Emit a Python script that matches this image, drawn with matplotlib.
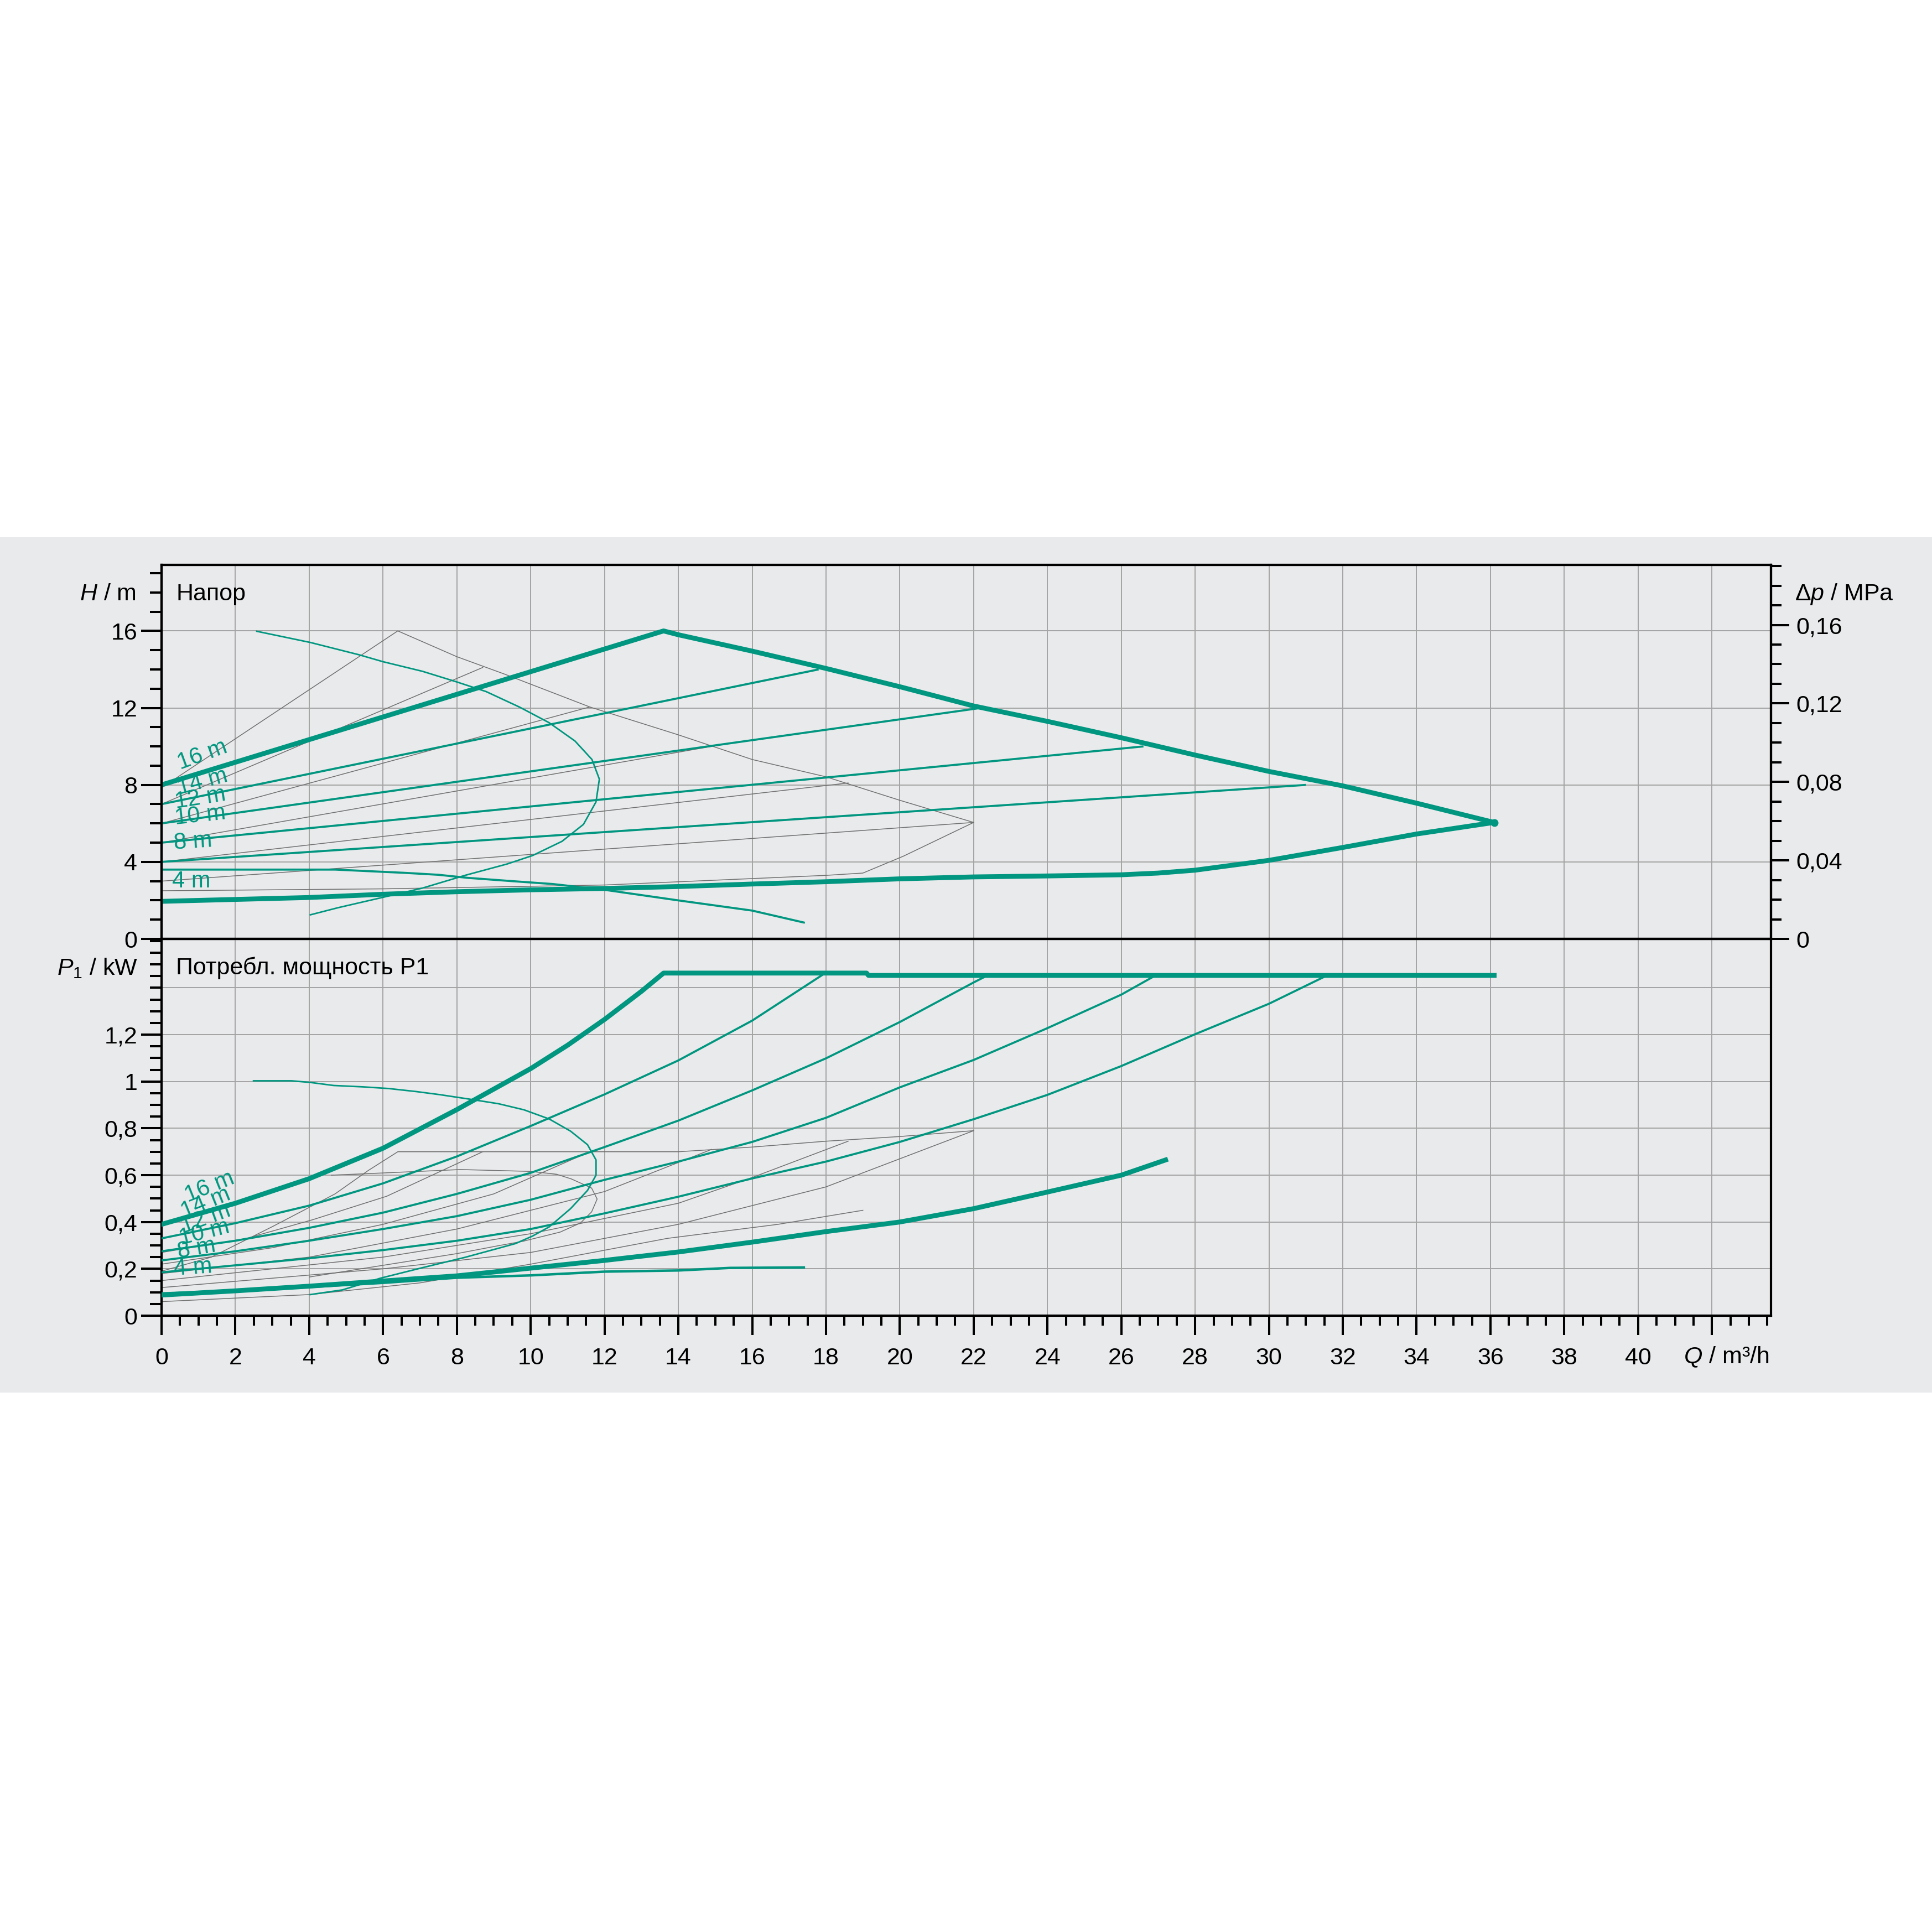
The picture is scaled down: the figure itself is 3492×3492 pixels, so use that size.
import numpy as np
import matplotlib
matplotlib.use("Agg")
import matplotlib.pyplot as plt
from matplotlib.ticker import MultipleLocator, FixedLocator, FixedFormatter
from matplotlib.patches import Rectangle
import matplotlib.transforms as mtransforms

plt.rcParams['font.family'] = ['Liberation Sans', 'DejaVu Sans']
plt.rcParams['mathtext.fontset'] = 'custom'
plt.rcParams['mathtext.it'] = 'Liberation Sans:italic'
plt.rcParams['mathtext.rm'] = 'Liberation Sans'
plt.rcParams['mathtext.default'] = 'regular'

# ---------------- data: head (top panel) ----------------
max_q = [0, 13.6, 14, 16, 18, 20, 22, 24, 26, 28, 30, 32, 34, 36.1]
max_h = [8.0, 16.0, 15.8, 14.95, 14.05, 13.1, 12.1, 11.3, 10.45, 9.55, 8.7, 7.95, 7.05, 6.05]

min_q = [0, 2, 4, 6, 8, 10, 12, 14, 16, 18, 20, 22, 24, 26, 27, 28, 30, 32, 34, 36.1]
min_h = [1.95, 2.05, 2.15, 2.32, 2.45, 2.55, 2.62, 2.72, 2.85, 2.97, 3.12, 3.22, 3.27, 3.33, 3.42, 3.57, 4.08, 4.75, 5.45, 6.05]

dpv_labels = ["14 m", "12 m", "10 m", "8 m"]
dpv_q_end = [17.8, 22.2, 26.6, 31.0]
dpv_h_start = [7.0, 6.0, 5.0, 4.0]
dpv_h_end = [14.0, 12.0, 10.0, 8.0]

minspeed_q = [0, 4.7, 6.6, 7.5, 8.3, 9.5, 10.6, 12, 14, 16, 17.4]
minspeed_h = [3.6, 3.6, 3.43, 3.33, 3.17, 3.0, 2.85, 2.55, 2.0, 1.47, 0.85]

arc_q = [2.58, 4.03, 5.35, 6.0, 7.07, 7.98, 8.79, 9.7, 10.5, 11.2, 11.66, 11.86, 11.77, 11.43,
         10.85, 10.05, 9.36, 8.22, 7.07, 5.93, 4.78, 4.03]
arc_h = [15.98, 15.4, 14.76, 14.4, 13.9, 13.36, 12.85, 12.04, 11.23, 10.28, 9.32, 8.3, 7.12, 5.95,
         5.07, 4.33, 3.89, 3.3, 2.64, 2.13, 1.62, 1.25]

gmax_q = [0, 6.4, 8, 9.3, 11.6, 14, 16, 18, 20, 22]
gmax_h = [7.85, 16.0, 14.66, 13.75, 12.05, 10.6, 9.32, 8.42, 7.2, 6.05]
gmin_q = [0, 6, 12, 18, 19, 19.6, 20.1, 22]
gmin_h = [2.5, 2.6, 2.8, 3.3, 3.42, 3.9, 4.3, 6.05]
g_q_end = [8.7, 11.6, 14.9, 18.6, 22.0]
g_h_start = [7.0, 6.0, 5.0, 4.0, 3.0]
g_h_end = [14.1, 12.05, 10.0, 8.1, 6.05]

# ---------------- data: power P1 (bottom panel) ----------------
maxp_q = [0, 2, 4, 6, 8, 10, 11, 12, 13, 13.6, 19.1, 19.15, 36.1]
maxp_p = [0.39, 0.48, 0.585, 0.715, 0.88, 1.055, 1.155, 1.265, 1.385, 1.463, 1.463, 1.453, 1.453]

p14_q = [0, 2, 4, 6, 8, 10, 12, 14, 16, 17.9]
p14_p = [0.33, 0.395, 0.47, 0.565, 0.68, 0.81, 0.945, 1.09, 1.26, 1.455]
p12_q = [0, 2, 4, 6, 8, 10, 12, 14, 16, 18, 20, 22, 22.4]
p12_p = [0.275, 0.32, 0.375, 0.44, 0.52, 0.61, 0.72, 0.833, 0.962, 1.099, 1.254, 1.423, 1.455]
p10_q = [0, 2, 4, 6, 8, 10, 12, 14, 16, 18, 20, 22, 24, 26, 26.95]
p10_p = [0.236, 0.275, 0.32, 0.37, 0.425, 0.495, 0.58, 0.658, 0.742, 0.845, 0.975, 1.092, 1.228, 1.371, 1.455]
p8_q = [0, 2, 4, 6, 8, 10, 12, 14, 16, 18, 20, 22, 24, 26, 28, 30, 31.6]
p8_p = [0.185, 0.215, 0.245, 0.28, 0.32, 0.37, 0.437, 0.508, 0.586, 0.658, 0.742, 0.839, 0.943, 1.066, 1.202, 1.332, 1.455]

pmin_q = [0, 2, 4, 6, 8, 10, 12, 14, 16, 18, 20, 22, 24, 26, 27.2]
pmin_p = [0.088, 0.106, 0.126, 0.148, 0.17, 0.203, 0.236, 0.272, 0.314, 0.359, 0.40, 0.457, 0.528, 0.6, 0.665]

pms_q = [0, 2, 4, 6, 8, 10, 12, 14, 15.4, 17.4]
pms_p = [0.095, 0.107, 0.122, 0.14, 0.162, 0.172, 0.188, 0.193, 0.204, 0.206]

parc_q = [2.49, 3.52, 4.03, 4.66, 5.47, 6.15, 6.9, 7.53, 8.33, 9.13, 9.82, 10.5, 11.08, 11.54, 11.77,
          11.77, 11.54, 11.08, 10.5, 10.05, 9.59, 9.13, 8.22, 7.07, 5.93, 4.9, 4.03]
parc_p = [1.003, 1.003, 0.996, 0.983, 0.977, 0.97, 0.957, 0.944, 0.925, 0.905, 0.879, 0.84, 0.788, 0.73, 0.665,
          0.6, 0.535, 0.457, 0.379, 0.34, 0.308, 0.288, 0.249, 0.205, 0.16, 0.11, 0.09]

gpmax_q = [0, 1.35, 3, 4.7, 5.6, 6.4, 14, 16, 18, 20, 22]
gpmax_p = [0.19, 0.25, 0.38, 0.52, 0.62, 0.70, 0.70, 0.72, 0.745, 0.765, 0.79]
gp_q = [[0, 2.3, 4.1, 6.1, 8.7],
        [0, 3, 6, 9, 11.6],
        [0, 4, 8, 12, 14.9],
        [0, 6, 10, 14, 16, 18.6],
        [0, 6, 10, 14, 18, 22]]
gp_p = [[0.27, 0.33, 0.41, 0.51, 0.70],
        [0.22, 0.29, 0.39, 0.52, 0.70],
        [0.18, 0.25, 0.37, 0.53, 0.71],
        [0.15, 0.25, 0.35, 0.48, 0.59, 0.745],
        [0.12, 0.2, 0.27, 0.39, 0.55, 0.79]]
gpmin_q = [0, 4, 7, 10, 13.7, 16.7, 19]
gpmin_p = [0.06, 0.09, 0.14, 0.22, 0.33, 0.39, 0.45]
gparc_q = [4.6, 5.8, 8.1, 10.0, 10.7, 11.1, 11.65, 11.8, 11.65, 11.35, 10.8, 9.8, 9.1, 8, 6, 4]
gparc_p = [0.6, 0.608, 0.624, 0.616, 0.604, 0.584, 0.545, 0.498, 0.443, 0.396, 0.357, 0.318, 0.298, 0.265, 0.215, 0.165]

x_major = list(range(0, 43, 2))
x_labels = [str(v) for v in range(0, 41, 2)] + [""]
h_major = [0, 4, 8, 12, 16]
h_labels = ["0", "4", "8", "12", "16"]
dp_major = [0, 0.04, 0.08, 0.12, 0.16]
dp_labels = ["0", "0,04", "0,08", "0,12", "0,16"]
p_major = [0, 0.2, 0.4, 0.6, 0.8, 1.0, 1.2]
p_labels = ["0", "0,2", "0,4", "0,6", "0,8", "1", "1,2"]

# ---------------- styling ----------------
TEAL = '#00967f'
GLINE = '#707070'
GRID = '#a4a4a4'
BG = '#e9eaec'
FS = 31
LFS = 30
W = 3492.0

fig = plt.figure(figsize=(34.92, 34.92), dpi=100)
fig.patch.set_facecolor('white')
fig.patches.append(Rectangle((0, (W - 2517) / W), 1, (2517 - 971) / W, transform=fig.transFigure,
                             facecolor=BG, edgecolor='none', zorder=-10))

L, R = 292 / W, 3201 / W
ax1 = fig.add_axes([L, (W - 1697) / W, R - L, (1697 - 1021) / W])
ax2 = fig.add_axes([L, (W - 2378) / W, R - L, (2378 - 1697) / W])
HMAX = 19.43
XMAX = 43.6
RHO_G = 0.00981

for ax in (ax1, ax2):
    ax.set_facecolor('none')
    ax.set_xlim(0, XMAX)
    for s in ax.spines.values():
        s.set_linewidth(3)
        s.set_color('black')
    ax.set_xticks(x_major)
    ax.xaxis.grid(True, which='major', color=GRID, lw=1.4, zorder=0)
    ax.yaxis.grid(True, which='major', color=GRID, lw=1.4, zorder=0)
    ax.set_axisbelow(True)

# top axes
ax1.set_ylim(0, HMAX)
ax1.yaxis.set_major_locator(FixedLocator(h_major))
ax1.yaxis.set_major_formatter(FixedFormatter(h_labels))
ax1.yaxis.set_minor_locator(FixedLocator(list(range(0, 20))))
ax1.tick_params(axis='x', which='both', length=0, labelbottom=False)
ax1.tick_params(axis='y', which='major', direction='out', length=26.5, width=2.9, labelsize=FS, pad=5)
ax1.tick_params(axis='y', which='minor', direction='out', length=15, width=2.9)

ax1r = ax1.twinx()
ax1r.set_ylim(0, HMAX * RHO_G)
ax1r.yaxis.set_major_locator(FixedLocator(dp_major))
ax1r.yaxis.set_major_formatter(FixedFormatter(dp_labels))
ax1r.yaxis.set_minor_locator(FixedLocator([i * 0.01 for i in range(0, 20)]))
ax1r.tick_params(axis='y', which='major', direction='out', length=24, width=2.9, labelsize=FS, pad=9)
ax1r.tick_params(axis='y', which='minor', direction='out', length=14, width=2.9)
for s in ax1r.spines.values():
    s.set_linewidth(3)

# bottom axes
ax2.set_ylim(0, 1.609)
ax2.yaxis.set_major_locator(FixedLocator(p_major))
ax2.yaxis.set_major_formatter(FixedFormatter(p_labels))
ax2.yaxis.set_minor_locator(FixedLocator([i * 0.05 for i in range(0, 33)]))
ax2.axhline(1.4, color=GRID, lw=1.4, zorder=0)
ax2.xaxis.set_major_formatter(FixedFormatter(x_labels))
ax2.xaxis.set_minor_locator(MultipleLocator(0.5))
ax2.tick_params(axis='x', which='major', direction='out', length=25, width=2.9, labelsize=FS, pad=16)
ax2.tick_params(axis='x', which='minor', direction='out', length=13, width=2.9)
ax2.tick_params(axis='y', which='major', direction='out', length=26.5, width=2.9, labelsize=FS, pad=5)
ax2.tick_params(axis='y', which='minor', direction='out', length=15, width=2.9)

THICK = 6.3
THIN = 2.7

# ---- top panel curves ----
ax1.plot(gmax_q, gmax_h, color=GLINE, lw=1.1, zorder=2)
ax1.plot(gmin_q, gmin_h, color=GLINE, lw=1.1, zorder=2)
for qe, hs, he in zip(g_q_end, g_h_start, g_h_end):
    ax1.plot([0, qe], [hs, he], color=GLINE, lw=1.1, zorder=2)

for qe, hs, he in zip(dpv_q_end, dpv_h_start, dpv_h_end):
    ax1.plot([0, qe], [hs, he], color=TEAL, lw=THIN, zorder=3, solid_capstyle='butt')
ax1.plot(minspeed_q, minspeed_h, color=TEAL, lw=THIN, zorder=3)
ax1.plot(arc_q, arc_h, color=TEAL, lw=2.0, zorder=3)
ax1.plot(max_q, max_h, color=TEAL, lw=THICK, zorder=4, solid_joinstyle='round')
ax1.plot(min_q, min_h, color=TEAL, lw=THICK, zorder=4, solid_joinstyle='round')
ax1.plot([max_q[-1]], [max_h[-1]], 'o', color=TEAL, ms=9, zorder=5)

top_lbls = [("16 m", 1.1, 9.55, 20), ("14 m", 1.1, 8.15, 15), ("12 m", 1.05, 7.3, 9),
            ("10 m", 1.05, 6.4, 6), ("8 m", 0.85, 5.05, 4), ("4 m", 0.8, 3.0, 0)]
for t, x, y, r in top_lbls:
    ax1.text(x, y, t, color=TEAL, fontsize=LFS, rotation=r, ha='center', va='center',
             rotation_mode='anchor', zorder=6)

# ---- bottom panel curves ----
ax2.plot(gpmax_q, gpmax_p, color=GLINE, lw=1.1, zorder=2)
for qq, pp in zip(gp_q, gp_p):
    ax2.plot(qq, pp, color=GLINE, lw=1.1, zorder=2)
ax2.plot(gpmin_q, gpmin_p, color=GLINE, lw=1.1, zorder=2)
ax2.plot(gparc_q, gparc_p, color=GLINE, lw=1.1, zorder=2)

for qq, pp in ((p14_q, p14_p), (p12_q, p12_p), (p10_q, p10_p), (p8_q, p8_p)):
    ax2.plot(qq, pp, color=TEAL, lw=THIN, zorder=3)
ax2.plot(pms_q, pms_p, color=TEAL, lw=3.2, zorder=3)
ax2.plot(parc_q, parc_p, color=TEAL, lw=2.0, zorder=3)
ax2.plot(maxp_q, maxp_p, color=TEAL, lw=THICK, zorder=4, solid_joinstyle='round')
ax2.plot(pmin_q, pmin_p, color=TEAL, lw=THICK, zorder=4, solid_joinstyle='round')

bot_lbls = [("16 m", 1.3, 0.55, 22), ("14 m", 1.2, 0.48, 22), ("12 m", 1.2, 0.415, 20),
            ("10 m", 1.15, 0.355, 14), ("8 m", 0.95, 0.285, 10), ("4 m", 0.85, 0.205, 4)]
for t, x, y, r in bot_lbls:
    ax2.text(x, y, t, color=TEAL, fontsize=LFS, rotation=r, ha='center', va='center',
             rotation_mode='anchor', zorder=6)

# ---- axis titles ----
tl1 = mtransforms.blended_transform_factory(ax1.transAxes, ax1.transData)
ax1.text(-46 / 2909, 17.9, r'$\mathit{H}$ / m', transform=tl1, ha='right', va='center', fontsize=FS)
ax1.text(0.39, 17.9, 'Напор', ha='left', va='center', fontsize=FS)
ax1.text(1 + 43 / 2909, 17.9, r'$\mathit{\Delta p}$ / MPa', transform=tl1, ha='left', va='center', fontsize=FS)

tl2 = mtransforms.blended_transform_factory(ax2.transAxes, ax2.transData)
ax2.text(-43 / 2909, 1.484, r'$\mathit{P_1}$ / kW', transform=tl2, ha='right', va='center', fontsize=FS)
ax2.text(0.39, 1.484, 'Потребл. мощность P1', ha='left', va='center', fontsize=FS)
ax2.text(1.0 - 4 / 2909, -75 / 681, r'$\mathit{Q}$ / m³/h', transform=ax2.transAxes,
         ha='right', va='center', fontsize=FS)

fig.savefig('out.png', dpi=100, facecolor='white')
